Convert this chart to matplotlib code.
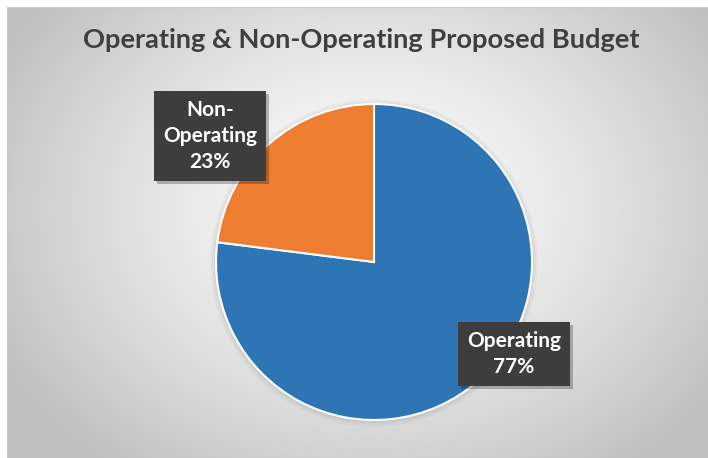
import numpy as np
import matplotlib.pyplot as plt
from matplotlib.patches import Rectangle

# budget split
labels = ["Operating", "Non-\nOperating"]
shares = [77, 23]
colors = ["#2E75B6", "#ED7D31"]
title = "Operating & Non-Operating Proposed Budget"

W, H = 708, 458
fig = plt.figure(figsize=(W / 100, H / 100), dpi=100)
ax = fig.add_axes([0, 0, 1, 1])

# radial gradient panel, white in the middle fading to grey at the edges
x0, y0 = 7, 0
gx, gy = np.meshgrid(np.linspace(x0, W, 400), np.linspace(y0, H - 7, 300))
cx, cy = 370, 250
d = np.sqrt(((gx - cx) / 420) ** 2 + ((gy - cy) / 330) ** 2)
d = np.clip(d, 0, 1)
shade = 1.0 - 0.25 * d ** 1.3
img = np.dstack([shade, shade, shade])
ax.imshow(img, extent=[x0, W, y0, H - 7], origin="lower", zorder=0)
ax.add_patch(Rectangle((x0, y0), W - x0, H - 7 - y0, fill=False,
                       edgecolor="#c8c8c8", linewidth=0.8, zorder=1))

ax.text(361, H - 40, title, ha="center", va="center", fontsize=19.6,
        fontweight="bold", color="#3f3f3f", family="Lato", zorder=5)

# soft shadow under the pie
center = (374, H - 262)
radius = 158
for k, a in zip([6, 4, 2], [0.05, 0.07, 0.09]):
    ax.add_patch(plt.Circle((center[0], center[1] - 1), radius + k,
                            color="#808080", alpha=a, lw=0, zorder=2))

wedges, _ = ax.pie(shares, colors=colors, startangle=90, counterclock=False,
                   center=center, radius=radius, frame=True,
                   wedgeprops=dict(edgecolor="white", linewidth=1.5))
for w in wedges:
    w.set_zorder(3)
ax.set_xlim(0, W)
ax.set_ylim(0, H)
ax.set_aspect("equal")
ax.axis("off")

# data labels in dark call-out boxes
label_pos = [(514, H - 354), (210, H - 136)]
texts = []
for lab, val, (lx, ly) in zip(labels, shares, label_pos):
    box = dict(boxstyle="square,pad=0.42", facecolor="#3d3d3d",
               edgecolor="none")
    t = ax.text(lx, ly, f"{lab}\n{val}%", ha="center", va="center",
                fontsize=15, fontweight="bold", color="white", family="Lato",
                linespacing=1.38, bbox=box, zorder=6)
    texts.append(t)

# drop shadows behind the boxes (axes units equal pixels here)
fig.canvas.draw()
for t in texts:
    bb = t.get_bbox_patch().get_window_extent()
    ax.add_patch(Rectangle((bb.x0 + 3, bb.y0 - 3), bb.width, bb.height,
                           facecolor="black", alpha=0.25, lw=0, zorder=5))

fig.savefig("out.png", dpi=100, facecolor="white")
